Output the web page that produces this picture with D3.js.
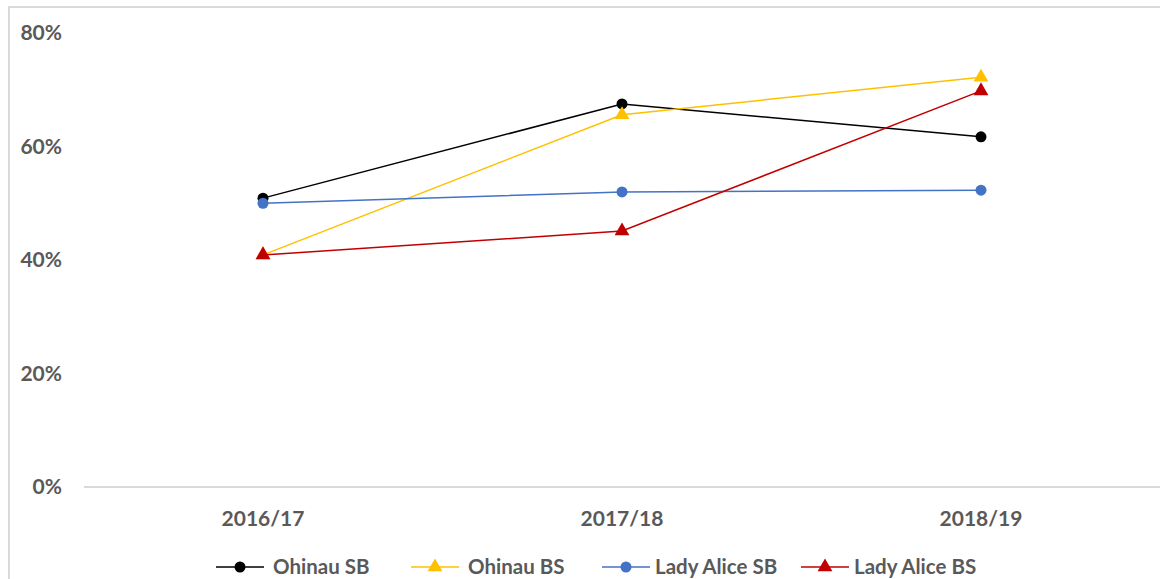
<!DOCTYPE html>
<meta charset="utf-8">
<style>
body { margin: 0; background: #fff; }
text { font-family: Lato, "Open Sans", sans-serif; font-weight: bold; fill: #595959; }
</style>
<svg width="1160" height="579"></svg>
<script src="https://d3js.org/d3.v7.min.js"></script>
<script>

var years = ["2016/17", "2017/18", "2018/19"];
var yTicks = [0, 0.2, 0.4, 0.6, 0.8];

var ohinauSB = [0.509, 0.675, 0.617];
var ohinauBS = [0.409, 0.656, 0.722];
var ladyAliceSB = [0.500, 0.520, 0.523];
var ladyAliceBS = [0.409, 0.451, 0.698];

var series = [
  {name: "Ohinau SB", values: ohinauSB, color: "#000000", marker: "circle"},
  {name: "Ohinau BS", values: ohinauBS, color: "#FFC000", marker: "triangle"},
  {name: "Lady Alice SB", values: ladyAliceSB, color: "#4472C4", marker: "circle"},
  {name: "Lady Alice BS", values: ladyAliceBS, color: "#C00000", marker: "triangle"}
];

var svg = d3.select("svg");

// chart border (partly cut off at right / bottom)
svg.append("rect")
    .attr("x", 9).attr("y", 7)
    .attr("width", 1160).attr("height", 600)
    .attr("fill", "none")
    .attr("stroke", "#d9d9d9")
    .attr("stroke-width", 2);

var x = d3.scalePoint()
    .domain(years)
    .range([263, 981]);

var y = d3.scaleLinear()
    .domain([0, 0.8])
    .range([487, 33]);

// category axis line
svg.append("line")
    .attr("x1", 84).attr("x2", 1160)
    .attr("y1", y(0)).attr("y2", y(0))
    .attr("stroke", "#d9d9d9")
    .attr("stroke-width", 2);

// y tick labels
svg.append("g")
  .selectAll("text")
  .data(yTicks)
  .enter().append("text")
    .attr("x", 62)
    .attr("y", function(d) { return y(d); })
    .attr("dy", "0.35em")
    .attr("text-anchor", "end")
    .style("font-size", "21px")
    .text(d3.format(".0%"));

// x labels
svg.append("g")
  .selectAll("text")
  .data(years)
  .enter().append("text")
    .attr("x", function(d) { return x(d); })
    .attr("y", 519)
    .attr("dy", "0.35em")
    .attr("text-anchor", "middle")
    .style("font-size", "21px")
    .text(function(d) { return d; });

var line = d3.line()
    .x(function(d, i) { return x(years[i]); })
    .y(function(d) { return y(d); });

var triangle = d3.symbol().type(d3.symbolTriangle).size(95);

function drawMarker(g, s) {
  if (s.marker == "circle") {
    g.append("circle").attr("r", 5.5).attr("fill", s.color);
  } else {
    g.append("path").attr("d", triangle).attr("fill", s.color);
  }
}

series.forEach(function(s) {
  svg.append("path")
      .datum(s.values)
      .attr("fill", "none")
      .attr("stroke", s.color)
      .attr("stroke-width", 1.5)
      .attr("d", line);

  s.values.forEach(function(v, i) {
    var g = svg.append("g")
        .attr("transform", "translate(" + x(years[i]) + "," + y(v) + ")");
    drawMarker(g, s);
  });
});

// legend
var legendX = [216, 411, 602, 801];
var legend = svg.append("g");
series.forEach(function(s, i) {
  var g = legend.append("g")
      .attr("transform", "translate(" + legendX[i] + ",567)");
  g.append("line")
      .attr("x1", 0).attr("x2", 48)
      .attr("stroke", s.color)
      .attr("stroke-width", 1.5);
  var m = g.append("g").attr("transform", "translate(24,0)");
  drawMarker(m, s);
  g.append("text")
      .attr("x", i < 2 ? 57 : 53)
      .attr("dy", "0.35em")
      .style("font-size", "20.5px")
      .text(s.name);
});

</script>
